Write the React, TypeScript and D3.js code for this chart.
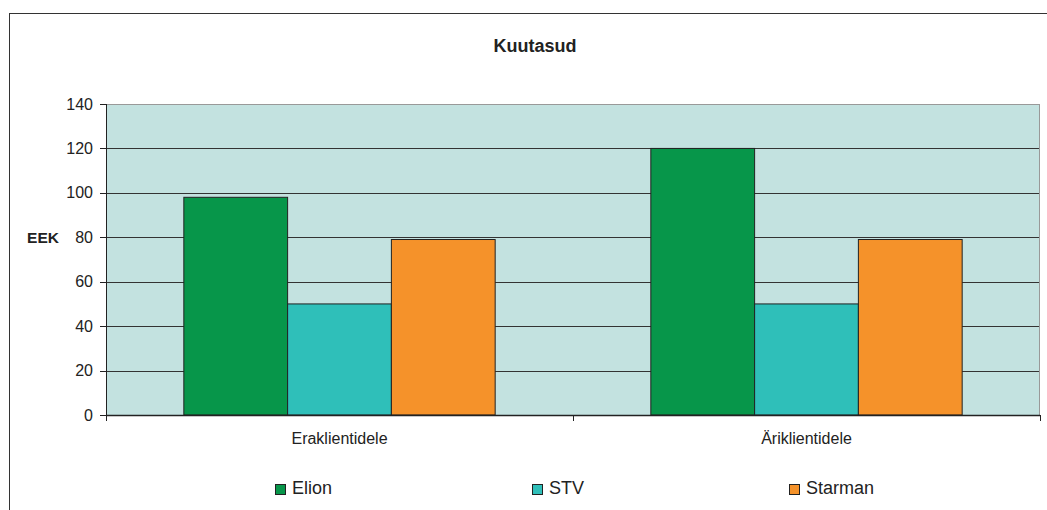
import React from "react";
import * as d3 from "d3";

const categories = ["Eraklientidele", "Äriklientidele"];
const seriesNames = ["Elion", "STV", "Starman"];
const elionValues = [98, 120];
const stvValues = [50, 50];
const starmanValues = [79, 79];
const yTicks = [0, 20, 40, 60, 80, 100, 120, 140];
const colors = ["#07964A", "#2FBFB9", "#F5922A"];

const W = 1047;
const H = 510;
const plot = { left: 106, right: 1040, top: 104, bottom: 415 };
const font = "'Liberation Sans', Arial, sans-serif";

export default function App() {
  const seriesValues = [elionValues, stvValues, starmanValues];
  const y = d3.scaleLinear().domain([0, 140]).range([plot.bottom, plot.top]);
  const x0 = d3.scaleBand<string>().domain(categories).range([plot.left, plot.right]).paddingInner(0).paddingOuter(0);
  const x1 = d3.scaleBand<string>().domain(seriesNames).range([0, x0.bandwidth()]).paddingInner(0).paddingOuter(0.75);
  const legendX = d3.scalePoint<string>().domain(seriesNames).range([275, 789]);

  const boundaries = [plot.left, ...categories.map((c) => (x0(c) as number) + x0.bandwidth())];

  return (
    <svg width={W} height={H} style={{ position: "absolute", left: 0, top: 0, display: "block" }}>
      <rect x={0} y={0} width={W} height={H} fill="#ffffff" />
      <rect x={9.5} y={13.5} width={1055} height={520} fill="none" stroke="#333" strokeWidth={1} />
      <text x={535} y={52} textAnchor="middle" fontFamily={font} fontWeight="bold" fontSize={18} fill="#222">
        Kuutasud
      </text>
      <text x={43} y={243} textAnchor="middle" fontFamily={font} fontWeight="bold" fontSize={15.5} fill="#222">
        EEK
      </text>
      {/* plot background */}
      <rect x={plot.left} y={plot.top} width={plot.right - plot.left} height={plot.bottom - plot.top} fill="#C3E2E0" />
      {/* gridlines */}
      {yTicks.filter((t) => t !== 0 && t !== 140).map((t) => (
        <line key={"g" + t} x1={plot.left} x2={plot.right} y1={Math.round(y(t)) + 0.5} y2={Math.round(y(t)) + 0.5} stroke="#333" strokeWidth={1} />
      ))}
      {/* plot border top/right */}
      <line x1={plot.left} x2={plot.right} y1={plot.top + 0.5} y2={plot.top + 0.5} stroke="#999" strokeWidth={1} />
      <line x1={plot.right - 0.5} x2={plot.right - 0.5} y1={plot.top} y2={plot.bottom} stroke="#999" strokeWidth={1} />
      {/* bars */}
      {categories.map((c, ci) =>
        seriesNames.map((s, si) => {
          const bx = (x0(c) as number) + (x1(s) as number);
          const v = seriesValues[si][ci];
          return (
            <rect
              key={c + s}
              x={bx}
              y={y(v)}
              width={x1.bandwidth()}
              height={y(0) - y(v)}
              fill={colors[si]}
              stroke="#222"
              strokeWidth={1}
            />
          );
        })
      )}
      {/* y axis */}
      <line x1={plot.left + 0.5} x2={plot.left + 0.5} y1={plot.top} y2={plot.bottom} stroke="#222" strokeWidth={1} />
      {yTicks.map((t) => (
        <g key={"t" + t}>
          <line x1={plot.left - 6} x2={plot.left} y1={Math.round(y(t)) + 0.5} y2={Math.round(y(t)) + 0.5} stroke="#222" strokeWidth={1} />
          <text x={93} y={y(t) + 5.5} textAnchor="end" fontFamily={font} fontSize={16} fill="#222">
            {t}
          </text>
        </g>
      ))}
      {/* x axis */}
      <line x1={plot.left} x2={plot.right} y1={plot.bottom + 0.5} y2={plot.bottom + 0.5} stroke="#222" strokeWidth={1.5} />
      {boundaries.map((b, i) => (
        <line key={"xb" + i} x1={Math.round(b) + 0.5} x2={Math.round(b) + 0.5} y1={plot.bottom} y2={plot.bottom + 6} stroke="#222" strokeWidth={1} />
      ))}
      {categories.map((c) => (
        <text key={"xl" + c} x={(x0(c) as number) + x0.bandwidth() / 2} y={444} textAnchor="middle" fontFamily={font} fontSize={16} fill="#222">
          {c}
        </text>
      ))}
      {/* legend */}
      {seriesNames.map((s, si) => {
        const lx = legendX(s) as number;
        return (
          <g key={"lg" + s}>
            <rect x={lx + 0.5} y={484.5} width={10} height={10} fill={colors[si]} stroke="#222" strokeWidth={1} />
            <text x={lx + 17} y={494} fontFamily={font} fontSize={18} fill="#222">
              {s}
            </text>
          </g>
        );
      })}
    </svg>
  );
}
